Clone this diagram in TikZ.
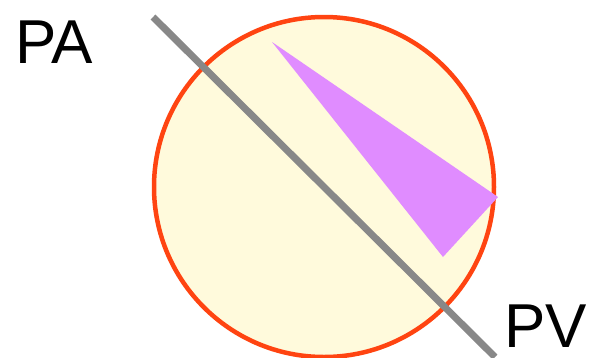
\documentclass[tikz,border=0pt]{standalone}
\usepackage{fontspec}
\setmainfont{Liberation Sans}
\definecolor{ballfill}{HTML}{FFFADC}
\definecolor{ballrim}{HTML}{FF4411}
\definecolor{wedge}{HTML}{E08CFF}
\definecolor{axisgray}{HTML}{888888}

\begin{document}
\begin{tikzpicture}[x=1pt, y=-1pt, label/.style={inner sep=0pt, font=\fontsize{62}{62}\selectfont}]

    \useasboundingbox (0,0) rectangle (592,357);

    \draw[ballrim, fill=ballfill, line width=4.5pt] (324,187) circle (170);
    \fill[wedge] (272,42) -- (498,197) -- (443,257) -- cycle;

    \node[label, anchor=base west] (pa) at (15,63) {PA};
    \node[label, anchor=base west] (pv) at (504,347) {PV};

    \coordinate (top) at (153,17);
    \coordinate (bot) at (495,357);
    \draw[axisgray, line width=7pt] (top) -- (bot);

\end{tikzpicture}
\end{document}
